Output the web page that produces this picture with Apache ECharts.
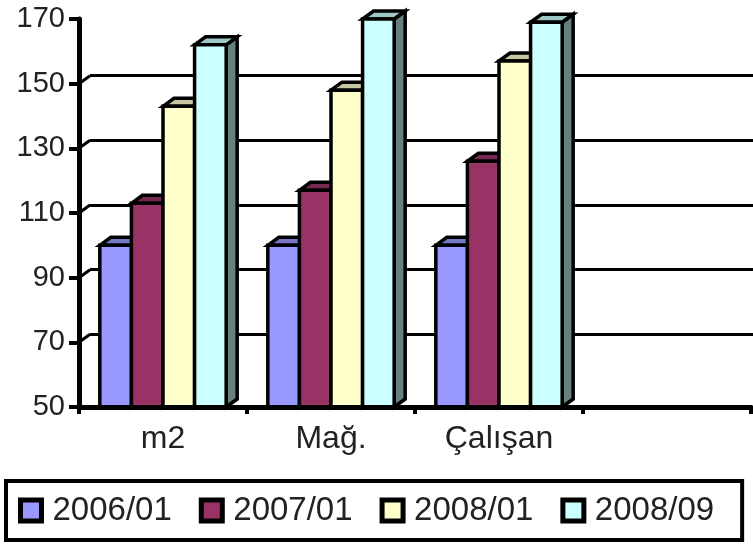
<!DOCTYPE html>
<html>
<head>
<meta charset="utf-8">
<script src="https://cdn.jsdelivr.net/npm/echarts@6/dist/echarts.min.js"></script>
<style>
html,body{margin:0;padding:0;background:#fff;}
#c{width:753px;height:544px;}
</style>
</head>
<body>
<div id="c"></div>
<script>
const categories = ['m2', 'Mağ.', 'Çalışan', ''];
const seriesNames = ['2006/01', '2007/01', '2008/01', '2008/09'];
const s2006_01 = [100, 100, 100];
const s2007_01 = [113, 117, 126];
const s2008_01 = [143, 148, 157];
const s2008_09 = [162, 170, 169];
const yTicks = [70, 90, 110, 130, 150];
const seriesValues = [s2006_01, s2007_01, s2008_01, s2008_09];
const colors = ['#9999FF', '#993366', '#FFFFCC', '#CCFFFF'];

const DX = 11, DY = -8;
const FONT = '"Liberation Sans", Arial, sans-serif';

function shade(hex, f) {
  const n = parseInt(hex.slice(1), 16);
  const r = Math.round(((n >> 16) & 255) * f);
  const g = Math.round(((n >> 8) & 255) * f);
  const b = Math.round((n & 255) * f);
  return 'rgb(' + r + ',' + g + ',' + b + ')';
}

function barRenderer(i) {
  return function (params, api) {
    const cat = api.value(0), val = api.value(1);
    const p = api.coord([cat, val]);
    const base = api.coord([cat, 50]);
    const band = api.size([1, 0])[0];
    const bw = band * 0.188;
    const x0 = p[0] - 2 * bw + i * bw;
    const top = p[1], bot = base[1];
    const stroke = {stroke: '#000', lineWidth: 3.5, lineJoin: 'miter'};
    return {
      type: 'group',
      children: [
        {type: 'polygon', shape: {points: [[x0 + bw, top], [x0 + bw + DX, top + DY], [x0 + bw + DX, bot + DY], [x0 + bw, bot]]},
          style: Object.assign({fill: shade(colors[i], 0.5)}, stroke)},
        {type: 'polygon', shape: {points: [[x0, top], [x0 + DX, top + DY], [x0 + bw + DX, top + DY], [x0 + bw, top]]},
          style: Object.assign({fill: shade(colors[i], 0.78)}, stroke)},
        {type: 'rect', shape: {x: x0, y: top, width: bw, height: bot - top},
          style: Object.assign({fill: colors[i]}, stroke)}
      ]
    };
  };
}

const barSeries = seriesNames.map((name, i) => ({
  name: name,
  type: 'custom',
  xAxisIndex: 0,
  yAxisIndex: 0,
  itemStyle: {color: colors[i]},
  renderItem: barRenderer(i),
  data: seriesValues[i].map((v, j) => [j, v]),
  z: 3 + i * 0.01
}));

const slantSeries = {
  type: 'custom',
  xAxisIndex: 0,
  yAxisIndex: 0,
  silent: true,
  renderItem: function (params, api) {
    const p = api.coord([0, api.value(0)]);
    const x = params.coordSys.x;
    return {type: 'line', shape: {x1: x, y1: p[1], x2: x + DX, y2: p[1] + DY},
      style: {stroke: '#000', lineWidth: 3}};
  },
  data: yTicks.map(v => [v]),
  z: 2
};

const chart = echarts.init(document.getElementById('c'));
chart.setOption({
  animation: false,
  backgroundColor: '#fff',
  grid: [
    {left: 79, right: 2, top: 19, bottom: 137},
    {left: 79 + DX, right: 0, top: 19 + DY, bottom: 137 - DY}
  ],
  xAxis: [
    {
      gridIndex: 0, type: 'category', data: categories, boundaryGap: true,
      axisLine: {lineStyle: {color: '#000', width: 5}},
      axisTick: {show: true, length: 7, lineStyle: {color: '#000', width: 4}},
      axisLabel: {fontSize: 32, fontFamily: FONT, color: '#222', margin: 16},
      splitLine: {show: false}, z: 5
    },
    {gridIndex: 1, type: 'value', show: false, min: 0, max: 1}
  ],
  yAxis: [
    {
      gridIndex: 0, type: 'value', min: 50, max: 170, interval: 20,
      axisLine: {show: true, lineStyle: {color: '#000', width: 5}},
      axisTick: {show: true, length: 10, lineStyle: {color: '#000', width: 4}},
      axisLabel: {fontSize: 29, fontFamily: FONT, color: '#222', margin: 14},
      splitLine: {show: false}, z: 5
    },
    {
      gridIndex: 1, type: 'value', min: 50, max: 170, interval: 20,
      axisLine: {show: false}, axisTick: {show: false}, axisLabel: {show: false},
      splitLine: {show: true, showMinLine: false, showMaxLine: false, lineStyle: {color: '#000', width: 3}}
    }
  ],
  legend: {
    data: seriesNames,
    left: 6, top: 481,
    orient: 'horizontal',
    padding: [13, 28, 13, 12],
    borderColor: '#000', borderWidth: 4,
    itemWidth: 21, itemHeight: 21, itemGap: 27,
    icon: 'rect',
    itemStyle: {borderColor: '#000', borderWidth: 5},
    textStyle: {fontSize: 33, fontFamily: FONT, color: '#222', padding: [0, 0, 0, 6]}
  },
  series: [slantSeries].concat(barSeries)
});
</script>
</body>
</html>
